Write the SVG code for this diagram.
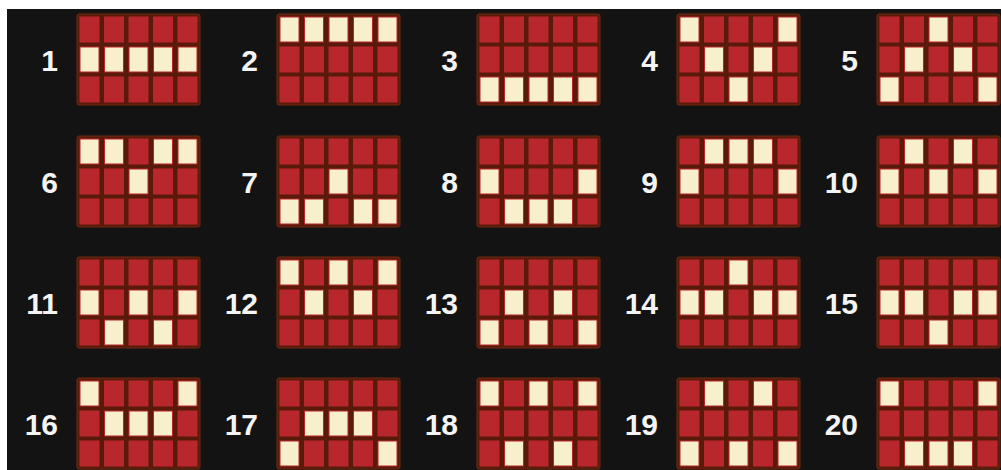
<svg xmlns="http://www.w3.org/2000/svg" xmlns:xlink="http://www.w3.org/1999/xlink" width="1001" height="470" viewBox="0 0 1001 470">
<style>
.lbl{font-family:"Liberation Sans",Arial,sans-serif;font-weight:bold;font-size:30px;fill:#f4f4f4;text-anchor:end}
.red{fill:#b8272b}
.on{fill:#f8f0cc}
.frame{fill:#5a1a0b;stroke:#6e2a12;stroke-width:1}
</style>
<defs>
<g id="board">
<rect class="frame" x="0" y="0" width="123" height="91" rx="2"/>
<g class="red">
<rect x="2.5" y="2.5" width="20" height="26"/><rect x="27" y="2.5" width="20" height="26"/><rect x="51.5" y="2.5" width="20" height="26"/><rect x="76" y="2.5" width="20" height="26"/><rect x="100.5" y="2.5" width="20" height="26"/>
<rect x="2.5" y="32.5" width="20" height="26"/><rect x="27" y="32.5" width="20" height="26"/><rect x="51.5" y="32.5" width="20" height="26"/><rect x="76" y="32.5" width="20" height="26"/><rect x="100.5" y="32.5" width="20" height="26"/>
<rect x="2.5" y="62.5" width="20" height="26"/><rect x="27" y="62.5" width="20" height="26"/><rect x="51.5" y="62.5" width="20" height="26"/><rect x="76" y="62.5" width="20" height="26"/><rect x="100.5" y="62.5" width="20" height="26"/>
</g>
</g>
<rect id="c0r0" class="on" x="3.5" y="3.5" width="18" height="24"/>
<rect id="c1r0" class="on" x="28" y="3.5" width="18" height="24"/>
<rect id="c2r0" class="on" x="52.5" y="3.5" width="18" height="24"/>
<rect id="c3r0" class="on" x="77" y="3.5" width="18" height="24"/>
<rect id="c4r0" class="on" x="101.5" y="3.5" width="18" height="24"/>
<rect id="c0r1" class="on" x="3.5" y="33.5" width="18" height="24"/>
<rect id="c1r1" class="on" x="28" y="33.5" width="18" height="24"/>
<rect id="c2r1" class="on" x="52.5" y="33.5" width="18" height="24"/>
<rect id="c3r1" class="on" x="77" y="33.5" width="18" height="24"/>
<rect id="c4r1" class="on" x="101.5" y="33.5" width="18" height="24"/>
<rect id="c0r2" class="on" x="3.5" y="63.5" width="18" height="24"/>
<rect id="c1r2" class="on" x="28" y="63.5" width="18" height="24"/>
<rect id="c2r2" class="on" x="52.5" y="63.5" width="18" height="24"/>
<rect id="c3r2" class="on" x="77" y="63.5" width="18" height="24"/>
<rect id="c4r2" class="on" x="101.5" y="63.5" width="18" height="24"/>
</defs>
<rect x="0" y="0" width="1001" height="470" fill="#ffffff"/>
<rect x="7" y="9" width="994" height="461" fill="#131313"/>

<g id="line1" transform="translate(77,14)"><use xlink:href="#board"/><use xlink:href="#c0r1"/><use xlink:href="#c1r1"/><use xlink:href="#c2r1"/><use xlink:href="#c3r1"/><use xlink:href="#c4r1"/><text class="lbl" x="-19" y="57">1</text></g>
<g id="line2" transform="translate(277,14)"><use xlink:href="#board"/><use xlink:href="#c0r0"/><use xlink:href="#c1r0"/><use xlink:href="#c2r0"/><use xlink:href="#c3r0"/><use xlink:href="#c4r0"/><text class="lbl" x="-19" y="57">2</text></g>
<g id="line3" transform="translate(477,14)"><use xlink:href="#board"/><use xlink:href="#c0r2"/><use xlink:href="#c1r2"/><use xlink:href="#c2r2"/><use xlink:href="#c3r2"/><use xlink:href="#c4r2"/><text class="lbl" x="-19" y="57">3</text></g>
<g id="line4" transform="translate(677,14)"><use xlink:href="#board"/><use xlink:href="#c0r0"/><use xlink:href="#c1r1"/><use xlink:href="#c2r2"/><use xlink:href="#c3r1"/><use xlink:href="#c4r0"/><text class="lbl" x="-19" y="57">4</text></g>
<g id="line5" transform="translate(877,14)"><use xlink:href="#board"/><use xlink:href="#c0r2"/><use xlink:href="#c1r1"/><use xlink:href="#c2r0"/><use xlink:href="#c3r1"/><use xlink:href="#c4r2"/><text class="lbl" x="-19" y="57">5</text></g>

<g id="line6" transform="translate(77,136)"><use xlink:href="#board"/><use xlink:href="#c0r0"/><use xlink:href="#c1r0"/><use xlink:href="#c2r1"/><use xlink:href="#c3r0"/><use xlink:href="#c4r0"/><text class="lbl" x="-19" y="57">6</text></g>
<g id="line7" transform="translate(277,136)"><use xlink:href="#board"/><use xlink:href="#c0r2"/><use xlink:href="#c1r2"/><use xlink:href="#c2r1"/><use xlink:href="#c3r2"/><use xlink:href="#c4r2"/><text class="lbl" x="-19" y="57">7</text></g>
<g id="line8" transform="translate(477,136)"><use xlink:href="#board"/><use xlink:href="#c0r1"/><use xlink:href="#c1r2"/><use xlink:href="#c2r2"/><use xlink:href="#c3r2"/><use xlink:href="#c4r1"/><text class="lbl" x="-19" y="57">8</text></g>
<g id="line9" transform="translate(677,136)"><use xlink:href="#board"/><use xlink:href="#c0r1"/><use xlink:href="#c1r0"/><use xlink:href="#c2r0"/><use xlink:href="#c3r0"/><use xlink:href="#c4r1"/><text class="lbl" x="-19" y="57">9</text></g>
<g id="line10" transform="translate(877,136)"><use xlink:href="#board"/><use xlink:href="#c0r1"/><use xlink:href="#c1r0"/><use xlink:href="#c2r1"/><use xlink:href="#c3r0"/><use xlink:href="#c4r1"/><text class="lbl" x="-19" y="57">10</text></g>

<g id="line11" transform="translate(77,257)"><use xlink:href="#board"/><use xlink:href="#c0r1"/><use xlink:href="#c1r2"/><use xlink:href="#c2r1"/><use xlink:href="#c3r2"/><use xlink:href="#c4r1"/><text class="lbl" x="-19" y="57">11</text></g>
<g id="line12" transform="translate(277,257)"><use xlink:href="#board"/><use xlink:href="#c0r0"/><use xlink:href="#c1r1"/><use xlink:href="#c2r0"/><use xlink:href="#c3r1"/><use xlink:href="#c4r0"/><text class="lbl" x="-19" y="57">12</text></g>
<g id="line13" transform="translate(477,257)"><use xlink:href="#board"/><use xlink:href="#c0r2"/><use xlink:href="#c1r1"/><use xlink:href="#c2r2"/><use xlink:href="#c3r1"/><use xlink:href="#c4r2"/><text class="lbl" x="-19" y="57">13</text></g>
<g id="line14" transform="translate(677,257)"><use xlink:href="#board"/><use xlink:href="#c0r1"/><use xlink:href="#c1r1"/><use xlink:href="#c2r0"/><use xlink:href="#c3r1"/><use xlink:href="#c4r1"/><text class="lbl" x="-19" y="57">14</text></g>
<g id="line15" transform="translate(877,257)"><use xlink:href="#board"/><use xlink:href="#c0r1"/><use xlink:href="#c1r1"/><use xlink:href="#c2r2"/><use xlink:href="#c3r1"/><use xlink:href="#c4r1"/><text class="lbl" x="-19" y="57">15</text></g>

<g id="line16" transform="translate(77,378)"><use xlink:href="#board"/><use xlink:href="#c0r0"/><use xlink:href="#c1r1"/><use xlink:href="#c2r1"/><use xlink:href="#c3r1"/><use xlink:href="#c4r0"/><text class="lbl" x="-19" y="57">16</text></g>
<g id="line17" transform="translate(277,378)"><use xlink:href="#board"/><use xlink:href="#c0r2"/><use xlink:href="#c1r1"/><use xlink:href="#c2r1"/><use xlink:href="#c3r1"/><use xlink:href="#c4r2"/><text class="lbl" x="-19" y="57">17</text></g>
<g id="line18" transform="translate(477,378)"><use xlink:href="#board"/><use xlink:href="#c0r0"/><use xlink:href="#c1r2"/><use xlink:href="#c2r0"/><use xlink:href="#c3r2"/><use xlink:href="#c4r0"/><text class="lbl" x="-19" y="57">18</text></g>
<g id="line19" transform="translate(677,378)"><use xlink:href="#board"/><use xlink:href="#c0r2"/><use xlink:href="#c1r0"/><use xlink:href="#c2r2"/><use xlink:href="#c3r0"/><use xlink:href="#c4r2"/><text class="lbl" x="-19" y="57">19</text></g>
<g id="line20" transform="translate(877,378)"><use xlink:href="#board"/><use xlink:href="#c0r0"/><use xlink:href="#c1r2"/><use xlink:href="#c2r2"/><use xlink:href="#c3r2"/><use xlink:href="#c4r0"/><text class="lbl" x="-19" y="57">20</text></g>

<g id="connectors"/>
</svg>
